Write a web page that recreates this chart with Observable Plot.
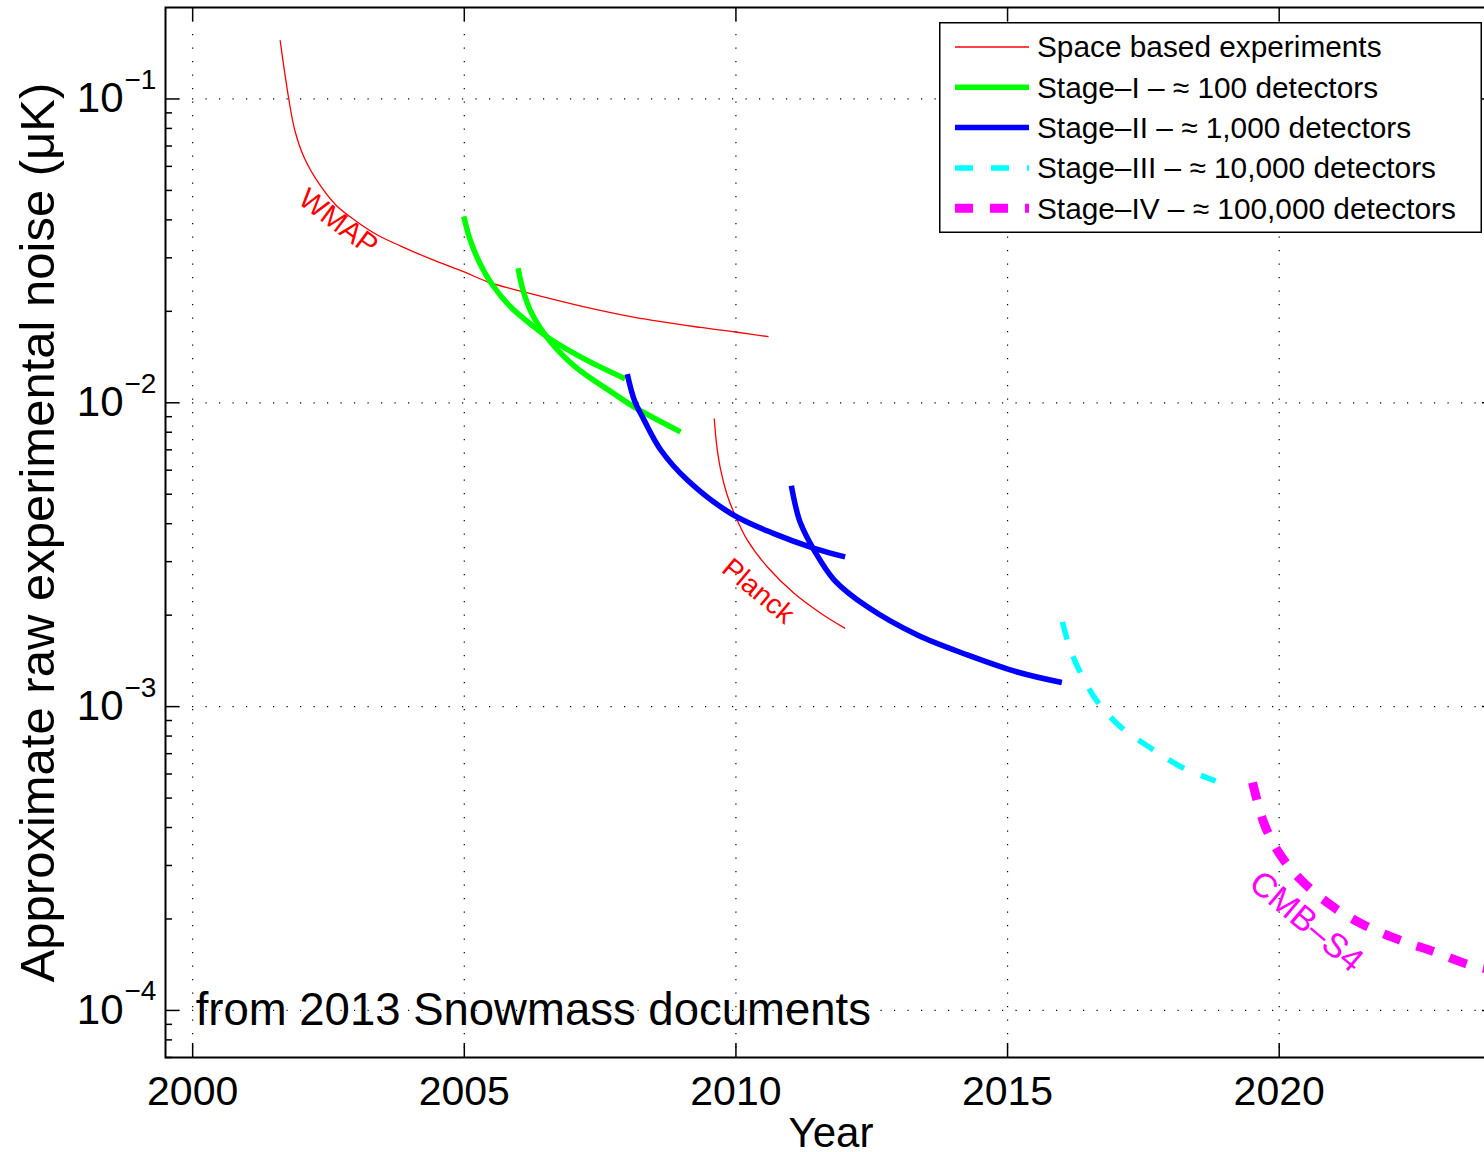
<!DOCTYPE html>
<html>
<head>
<meta charset="utf-8">
<script src="https://cdn.jsdelivr.net/npm/d3@7"></script>
<script src="https://cdn.jsdelivr.net/npm/@observablehq/plot@0.6"></script>
<style>
  html, body { margin: 0; padding: 0; background: #fff; overflow: hidden; }
  #wrap { position: relative; width: 1484px; height: 1152px; overflow: hidden;
          font-family: "Liberation Sans", Arial, Helvetica, sans-serif; }
  #wrap > svg.chart { max-width: none !important; display: block; }
  #legend { position: absolute; left: 939px; top: 22px; }
</style>
</head>
<body>
<div id="wrap"></div>
<script>
// ---- axes ----
const xDomain = [1999.5, 2024];
const yDomain = [7e-5, 0.2];
const yearTicks = [2000, 2005, 2010, 2015, 2020];
const decadeTicks = [1e-4, 1e-3, 1e-2, 1e-1];
const decadeExponents = ["\u22124", "\u22123", "\u22122", "\u22121"];
const minorTicks = [];
for (let k = -5; k <= -1; k++) for (let m = 2; m <= 9; m++) {
  const v = m * Math.pow(10, k);
  if (v > yDomain[0] && v < yDomain[1]) minorTicks.push(v);
}

// ---- space based experiments ----
const wmapYear  = [2001.61, 2001.68, 2001.77, 2001.88, 2002.05, 2002.32, 2002.64, 2003.01, 2003.41, 2003.83, 2004.39, 2005.01, 2005.43, 2006.08, 2007.15, 2008.14, 2009.35, 2009.99, 2010.60];
const wmapNoise = [0.156, 0.1271, 0.0998, 0.0789, 0.0643, 0.0528, 0.0447, 0.0396, 0.0356, 0.0328, 0.0297, 0.0269, 0.0250, 0.0232, 0.0208, 0.0191, 0.0177, 0.0171, 0.0165];

const planckYear  = [2009.60, 2009.65, 2009.72, 2009.83, 2009.97, 2010.21, 2010.58, 2011.07, 2011.56, 2012.01];
const planckNoise = [0.00888, 0.00716, 0.00600, 0.00503, 0.00432, 0.00353, 0.00288, 0.00236, 0.00203, 0.00181];

// ---- Stage-I (two experiments) ----
const stage1aYear  = [2004.99, 2005.11, 2005.29, 2005.50, 2005.85, 2006.28, 2006.56, 2007.19, 2007.96];
const stage1aNoise = [0.0411, 0.0343, 0.0287, 0.0247, 0.0207, 0.0178, 0.0163, 0.0140, 0.0120];
const stage1bYear  = [2005.99, 2006.08, 2006.24, 2006.56, 2007.05, 2007.75, 2008.17, 2008.98];
const stage1bNoise = [0.0277, 0.0235, 0.0197, 0.0161, 0.0131, 0.01073, 0.00958, 0.00802];

// ---- Stage-II (two experiments) ----
const stage2aYear  = [2008.00, 2008.13, 2008.31, 2008.62, 2009.11, 2009.91, 2010.70, 2011.44, 2012.01];
const stage2aNoise = [0.01242, 0.01020, 0.00877, 0.00698, 0.00556, 0.00432, 0.00371, 0.00332, 0.00311];
const stage2bYear  = [2011.02, 2011.10, 2011.19, 2011.44, 2011.81, 2012.42, 2013.34, 2014.26, 2015.18, 2016.00];
const stage2bNoise = [0.00533, 0.00455, 0.00401, 0.00327, 0.00261, 0.00213, 0.00172, 0.00148, 0.00130, 0.00120];

// ---- Stage-III and Stage-IV ----
const stage3Year  = [2016.01, 2016.13, 2016.29, 2016.65, 2017.08, 2017.64, 2018.19, 2018.83];
const stage3Noise = [0.00190, 0.00159, 0.00135, 0.00104, 0.000858, 0.000729, 0.000634, 0.000569];
const stage4Year  = [2019.51, 2019.72, 2020.00, 2020.40, 2020.95, 2021.56, 2022.24, 2022.85, 2023.52, 2024.00];
const stage4Noise = [0.000563, 0.000413, 0.000329, 0.000269, 0.000222, 0.000191, 0.000170, 0.000156, 0.000141, 0.000135];

// ---- curve labels ----
const labelText  = ["WMAP", "Planck", "CMB\u2013S4"];
const labelYear  = [2002.68, 2010.41, 2020.50];
const labelNoise = [0.0393, 0.00240, 0.000196];

const legendLabels = [
  "Space based experiments",
  "Stage\u2013I \u2013 \u2248 100 detectors",
  "Stage\u2013II \u2013 \u2248 1,000 detectors",
  "Stage\u2013III \u2013 \u2248 10,000 detectors",
  "Stage\u2013IV \u2013 \u2248 100,000 detectors"
];

const zip = (xs, ys) => xs.map((x, i) => ({year: x, noise: ys[i]}));

// line styles
const RED = "#ff0000", GREEN = "#00ff00", BLUE = "#0000ff", CYAN = "#00ffff", MAGENTA = "#ff00ff";
const styles = [
  {stroke: RED, strokeWidth: 1.3},
  {stroke: GREEN, strokeWidth: 5.5},
  {stroke: BLUE, strokeWidth: 5.5},
  {stroke: CYAN, strokeWidth: 5.5, strokeDasharray: "18,18"},
  {stroke: MAGENTA, strokeWidth: 9, strokeDasharray: "18,17"}
];

const lineOf = (xs, ys, st) => Plot.line(zip(xs, ys), {
  x: "year", y: "noise", curve: "catmull-rom",
  strokeLinecap: "butt", strokeLinejoin: "round", ...st
});

const W = 1500, H = 1152;
const mL = 165, mR = 4, mT = 7, mB = 95;
const frameW = W - mL - mR, frameH = H - mT - mB;

const labels = labelText.map((t, i) => ({text: t, year: labelYear[i], noise: labelNoise[i]}));

const chart = Plot.plot({
  width: W, height: H,
  marginLeft: mL, marginRight: mR, marginTop: mT, marginBottom: mB,
  style: {fontFamily: "'Liberation Sans', Arial, Helvetica, sans-serif", background: "#fff", color: "#000", maxWidth: "none"},
  x: {domain: xDomain, axis: null},
  y: {type: "log", domain: yDomain, axis: null},
  marks: [
    // dotted grid
    Plot.ruleX(yearTicks, {x: d => d, stroke: "#000", strokeWidth: 1.2, strokeDasharray: "1.2,12.3"}),
    Plot.ruleY(decadeTicks, {y: d => d, stroke: "#000", strokeWidth: 1.2, strokeDasharray: "1.2,12.3"}),

    // curves
    lineOf(wmapYear, wmapNoise, styles[0]),
    lineOf(planckYear, planckNoise, styles[0]),
    lineOf(stage1aYear, stage1aNoise, styles[1]),
    lineOf(stage1bYear, stage1bNoise, styles[1]),
    lineOf(stage2aYear, stage2aNoise, styles[2]),
    lineOf(stage2bYear, stage2bNoise, styles[2]),
    lineOf(stage3Year, stage3Noise, styles[3]),
    lineOf(stage4Year, stage4Noise, styles[4]),

    // curve labels
    Plot.text(labels.slice(0, 1), {x: "year", y: "noise", text: "text", fill: RED, fontSize: 29, rotate: 37}),
    Plot.text(labels.slice(1, 2), {x: "year", y: "noise", text: "text", fill: RED, fontSize: 28, rotate: 40}),
    Plot.text(labels.slice(2, 3), {x: "year", y: "noise", text: "text", fill: MAGENTA, fontSize: 34, rotate: 40}),

    // source note
    Plot.text(["from 2013 Snowmass documents"], {x: yearTicks[0], y: decadeTicks[0], text: d => d,
      textAnchor: "start", dx: 3, fontSize: 45.5, fill: "#000"}),

    // box and inward ticks
    Plot.frame({stroke: "#000", strokeWidth: 2}),
    Plot.ruleX(yearTicks, {x: d => d, insetTop: frameH - 14, stroke: "#000", strokeWidth: 1.5}),
    Plot.ruleX(yearTicks, {x: d => d, insetBottom: frameH - 14, stroke: "#000", strokeWidth: 1.5}),
    Plot.ruleY(decadeTicks, {y: d => d, insetRight: frameW - 14, stroke: "#000", strokeWidth: 1.5}),
    Plot.ruleY(decadeTicks, {y: d => d, insetLeft: frameW - 14, stroke: "#000", strokeWidth: 1.5}),
    Plot.ruleY(minorTicks, {y: d => d, insetRight: frameW - 7, stroke: "#000", strokeWidth: 1.5}),
    Plot.ruleY(minorTicks, {y: d => d, insetLeft: frameW - 7, stroke: "#000", strokeWidth: 1.5}),

    // x tick labels
    Plot.text(yearTicks, {x: d => d, frameAnchor: "bottom", text: d => String(d), textAnchor: "middle",
      lineAnchor: "top", dy: 18, fontSize: 41, fill: "#000"}),

    // y tick labels: 10 with a raised exponent
    Plot.text(decadeTicks, {y: d => d, frameAnchor: "left", text: () => "10", textAnchor: "end",
      dx: -42, fontSize: 42, fill: "#000"}),
    Plot.text(decadeTicks, {y: d => d, frameAnchor: "left", text: (d, i) => decadeExponents[i], textAnchor: "start",
      dx: -41, dy: -19, fontSize: 28, fill: "#000"}),

    // axis titles
    Plot.text(["Approximate raw experimental noise (\u03bcK)"], {frameAnchor: "left", text: d => d, rotate: -90,
      textAnchor: "middle", dx: -127, fontSize: 49, fill: "#000"}),
    Plot.text(["Year"], {frameAnchor: "bottom", text: d => d, textAnchor: "middle", lineAnchor: "bottom",
      dy: 89, fontSize: 42, fill: "#000"})
  ]
});

const wrap = document.getElementById("wrap");
wrap.appendChild(chart);

// legend box in the upper-right corner of the axes
const lg = d3.select(wrap).append("svg").attr("id", "legend")
  .attr("width", 544).attr("height", 212)
  .style("font-family", "'Liberation Sans', Arial, Helvetica, sans-serif");
lg.append("rect").attr("x", 0.75).attr("y", 0.75).attr("width", 541.5).attr("height", 209.5)
  .attr("fill", "#fff").attr("stroke", "#000").attr("stroke-width", 1.5);
const rowY = i => 25 + i * 40.3;
legendLabels.forEach((t, i) => {
  const st = styles[i];
  lg.append("line").attr("x1", 16).attr("x2", 90).attr("y1", rowY(i)).attr("y2", rowY(i))
    .attr("stroke", st.stroke).attr("stroke-width", st.strokeWidth)
    .attr("stroke-dasharray", st.strokeDasharray || null);
  lg.append("text").attr("x", 98).attr("y", rowY(i)).attr("dy", "0.35em")
    .attr("font-size", 29.8).attr("fill", "#000").text(t);
});
</script>
</body>
</html>
